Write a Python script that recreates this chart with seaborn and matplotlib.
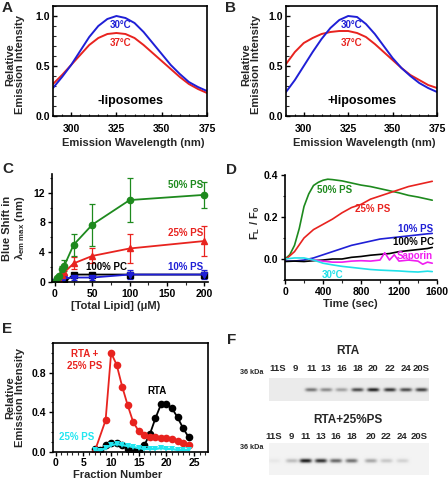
import numpy as np
import pandas as pd
import matplotlib
matplotlib.use('Agg')
import matplotlib.pyplot as plt
import seaborn as sns
from matplotlib.ticker import MultipleLocator

# ---------------- data ----------------
# Panels A / B : emission spectra
wavelength = [290, 295, 300, 305, 310, 315, 320, 325, 330, 335, 340, 345, 350, 355, 360, 365, 370, 375]
a_30C = [0.28, 0.39, 0.51, 0.65, 0.79, 0.90, 0.97, 1.00, 0.98, 0.93, 0.84, 0.73, 0.62, 0.51, 0.42, 0.34, 0.29, 0.25]
a_37C = [0.32, 0.41, 0.51, 0.61, 0.71, 0.78, 0.82, 0.83, 0.82, 0.78, 0.71, 0.63, 0.55, 0.47, 0.39, 0.32, 0.27, 0.23]
b_30C = [0.24, 0.36, 0.50, 0.64, 0.77, 0.88, 0.96, 1.00, 0.99, 0.92, 0.82, 0.70, 0.58, 0.48, 0.40, 0.33, 0.28, 0.24]
b_37C = [0.52, 0.64, 0.73, 0.78, 0.82, 0.84, 0.85, 0.85, 0.83, 0.79, 0.72, 0.64, 0.56, 0.48, 0.41, 0.36, 0.31, 0.28]

# Panel C : blue shift vs lipid
c_lipid50 = [0, 2.5, 5, 10, 12.5, 25, 50, 100, 200]
c_ps50 = [0, 0.5, 0.8, 1.7, 2.2, 5.0, 7.7, 11.0, 11.7]
c_ps50_err = [0, 0.1, 0.2, 0.5, 0.7, 1.5, 2.8, 2.9, 1.7]
c_lipid = [0, 5, 10, 12.5, 25, 50, 100, 200]
c_ps25 = [0, 0.3, 1.0, 1.3, 2.5, 3.5, 4.5, 5.5]
c_ps25_err = [0, 0.1, 0.3, 0.4, 0.8, 1.0, 2.0, 2.0]
c_pc100 = [0, 0, 0, 0, 1.0, 1.0, 1.0, 1.0]
c_ps10 = [0, 0.2, 0.4, 0.5, 0.6, 0.6, 1.0, 1.0]
c_ps10_err = [0, 0.1, 0.1, 0.2, 0.3, 0.3, 0.6, 0.6]

# Panel D : kinetics
d_t_ps50 = [0, 50, 100, 150, 200, 250, 300, 350, 400, 450, 500, 600, 700, 800, 900, 1000, 1100, 1200, 1300, 1400, 1500, 1550]
d_ps50 = [0.0, 0.02, 0.065, 0.145, 0.25, 0.31, 0.35, 0.365, 0.375, 0.38, 0.378, 0.372, 0.362, 0.352, 0.345, 0.335, 0.325, 0.315, 0.303, 0.295, 0.285, 0.28]
d_t = [0, 100, 200, 300, 400, 500, 600, 700, 800, 900, 1000, 1100, 1200, 1300, 1400, 1500, 1550]
d_ps25 = [-0.005, 0.035, 0.10, 0.14, 0.165, 0.19, 0.22, 0.245, 0.26, 0.285, 0.30, 0.315, 0.33, 0.345, 0.355, 0.365, 0.37]
d_ps10 = [-0.01, -0.01, -0.005, 0.005, 0.02, 0.035, 0.05, 0.065, 0.075, 0.085, 0.095, 0.10, 0.105, 0.11, 0.115, 0.12, 0.122]
d_pc100 = [-0.012, -0.01, -0.012, -0.008, -0.005, 0.0, 0.0, 0.008, 0.012, 0.018, 0.022, 0.026, 0.035, 0.04, 0.045, 0.05, 0.055]
d_30C = [0.0, 0.005, 0.005, -0.005, -0.02, -0.028, -0.035, -0.04, -0.045, -0.05, -0.053, -0.055, -0.057, -0.06, -0.062, -0.058, -0.06]
d_t_sap = [250, 300, 400, 500, 600, 700, 800, 900, 1000, 1050, 1100, 1150, 1200, 1300, 1400, 1450, 1500, 1550]
d_saporin = [0.0, -0.005, -0.01, -0.015, -0.015, -0.01, -0.008, -0.01, -0.005, 0.03, -0.005, 0.02, -0.01, -0.005, -0.01, -0.025, -0.015, -0.02]

# Panel E : gradient fractions
e_frac_red = [7, 9, 10, 11, 12, 13, 14, 15, 16, 17, 18, 19, 20, 21, 22, 23, 24]
e_rta_ps = [0.0, 0.32, 1.0, 0.88, 0.66, 0.47, 0.30, 0.21, 0.17, 0.15, 0.15, 0.14, 0.14, 0.13, 0.11, 0.09, 0.07]
e_frac = [7, 8, 9, 10, 11, 12, 13, 14, 15, 16, 17, 18, 19, 20, 21, 22, 23, 24]
e_rta = [0.03, 0.02, 0.07, 0.09, 0.09, 0.07, 0.03, 0.02, 0.01, 0.07, 0.18, 0.34, 0.48, 0.48, 0.44, 0.35, 0.24, 0.15]
e_ps = [0.02, 0.01, 0.04, 0.07, 0.08, 0.07, 0.06, 0.05, 0.04, 0.03, 0.03, 0.03, 0.04, 0.03, 0.03, 0.02, 0.02, 0.02]

# Panel F : blot lanes and band intensities
f_lanes = ['11S', '9', '11', '13', '16', '18', '20', '22', '24', '20S']
f_rta_band = [0.0, 0.0, 0.55, 0.45, 0.35, 0.75, 0.95, 0.85, 0.75, 0.8]
f_rta_ps_band = [0.05, 0.25, 1.0, 0.9, 0.65, 0.6, 0.35, 0.2, 0.15, 0.0]

# ---------------- style ----------------
sns.set_theme(style='ticks')
plt.rcParams['font.family'] = ['Liberation Sans', 'DejaVu Sans']
plt.rcParams['font.weight'] = 'bold'
plt.rcParams['axes.labelweight'] = 'bold'
plt.rcParams['mathtext.fontset'] = 'custom'
plt.rcParams['mathtext.rm'] = 'Liberation Sans:bold'
plt.rcParams['mathtext.bf'] = 'Liberation Sans:bold'
plt.rcParams['mathtext.it'] = 'Liberation Sans:bold'
plt.rcParams['axes.linewidth'] = 1.2
plt.rcParams['axes.edgecolor'] = 'black'

W, H = 448, 483
fig = plt.figure(figsize=(W / 100, H / 100), dpi=100)
fig.patch.set_facecolor('white')


def px_axes(x0, y0, x1, y1):
    return fig.add_axes([x0 / W, 1 - y1 / H, (x1 - x0) / W, (y1 - y0) / H])


TICK = 7.5
LAB = 8

def style(ax, box=True, direction='out'):
    for s in ['top', 'right']:
        ax.spines[s].set_visible(box)
    ax.tick_params(axis='both', which='major', labelsize=TICK, length=3, width=1, direction=direction,
                   pad=2, colors='black')
    ax.tick_params(axis='both', which='minor', length=1.8, width=0.8, direction=direction)
    for lab in ax.get_xticklabels() + ax.get_yticklabels():
        lab.set_fontweight('bold')
    ax.set_facecolor('white')


blue = '#1f1fd6'
red = '#e8231f'
green = '#1e8a1e'

# ---- Panel A & B ----
for (x0, x1, d30, d37, txt, letter, lx) in [
        (53, 207, a_30C, a_37C, '-liposomes', 'A', 2),
        (286, 437, b_30C, b_37C, '+liposomes', 'B', 225)]:
    ax = px_axes(x0, 6, x1, 116)
    sns.lineplot(x=wavelength, y=d37, ax=ax, color=red, lw=1.4)
    sns.lineplot(x=wavelength, y=d30, ax=ax, color=blue, lw=1.4)
    ax.set_xlim(290, 375)
    ax.set_ylim(0, 1.1)
    ax.xaxis.set_major_locator(MultipleLocator(25))
    ax.xaxis.set_minor_locator(MultipleLocator(5))
    ax.yaxis.set_major_locator(MultipleLocator(0.5))
    ax.yaxis.set_minor_locator(MultipleLocator(0.1))
    ax.yaxis.set_major_formatter(matplotlib.ticker.FormatStrFormatter('%.1f'))
    style(ax, box=True, direction='in')
    ax.tick_params(axis='x', pad=6)
    ax.text(327, 0.91, '30°C', color=blue, fontsize=7, ha='center', va='center', fontweight='bold')
    ax.text(327, 0.73, '37°C', color=red, fontsize=7, ha='center', va='center', fontweight='bold')
    ax.text(333, 0.15, txt, color='black', fontsize=9, ha='center', va='center', fontweight='bold')
    ax.set_xlabel('Emission Wavelength (nm)', fontsize=LAB, fontweight='bold')
    ax.set_ylabel('Relative\nEmission Intensity', fontsize=LAB, fontweight='bold', linespacing=1.0)
    ax.xaxis.set_label_coords(0.52, -0.2)
    ax.yaxis.set_label_coords(-0.18 if letter == 'A' else -0.165, 0.47)
    fig.text(lx / W, 1 - 1 / H, letter, fontsize=11, fontweight='bold', va='top', ha='left')

# ---- Panel C ----
ax = px_axes(52, 174, 208, 282)
ekw = dict(capsize=2, elinewidth=0.9, capthick=0.9, lw=1.3, ms=4.5)
ax.errorbar(c_lipid, c_pc100, color='black', marker='s', **ekw)
ax.errorbar(c_lipid, c_ps10, yerr=c_ps10_err, color=blue, marker='v', **ekw)
ax.errorbar(c_lipid, c_ps25, yerr=c_ps25_err, color=red, marker='^', **ekw)
ax.errorbar(c_lipid50, c_ps50, yerr=c_ps50_err, color=green, marker='o', **ekw)
ax.set_xlim(-4, 205)
ax.set_ylim(0, 14.5)
ax.xaxis.set_major_locator(MultipleLocator(50))
ax.xaxis.set_minor_locator(MultipleLocator(25))
ax.yaxis.set_major_locator(MultipleLocator(4))
ax.yaxis.set_minor_locator(MultipleLocator(2))
style(ax, box=False)
ax.text(198, 12.3, '50% PS', color=green, fontsize=7, ha='right', va='bottom', fontweight='bold')
ax.text(198, 5.9, '25% PS', color=red, fontsize=7, ha='right', va='bottom', fontweight='bold')
ax.text(198, 1.3, '10% PS', color=blue, fontsize=7, ha='right', va='bottom', fontweight='bold')
ax.text(97, 1.3, '100% PC', color='black', fontsize=7, ha='right', va='bottom', fontweight='bold')
ax.set_xlabel('[Total Lipid] (μM)', fontsize=LAB, fontweight='bold')
ax.set_ylabel('Blue Shift in\n$\\lambda_{\\mathbf{em\\ max}}$ (nm)', fontsize=LAB, fontweight='bold', linespacing=1.1)
ax.xaxis.set_label_coords(0.41, -0.18)
ax.yaxis.set_label_coords(-0.16, 0.5)
fig.text(2 / W, 1 - 162 / H, 'C', fontsize=11, fontweight='bold', va='top', ha='left')

# ---- Panel D ----
ax = px_axes(285, 175, 437, 280)
magenta = '#f01ef0'
cyan = '#20e0e8'
sns.lineplot(x=d_t_ps50, y=d_ps50, ax=ax, color=green, lw=1.2)
sns.lineplot(x=d_t, y=d_ps25, ax=ax, color=red, lw=1.2)
sns.lineplot(x=d_t, y=d_ps10, ax=ax, color=blue, lw=1.2)
sns.lineplot(x=d_t, y=d_pc100, ax=ax, color='black', lw=1.2)
sns.lineplot(x=d_t_sap, y=d_saporin, ax=ax, color=magenta, lw=1.2)
sns.lineplot(x=d_t, y=d_30C, ax=ax, color=cyan, lw=1.2)
ax.set_xlim(0, 1600)
ax.set_ylim(-0.1, 0.4)
ax.xaxis.set_major_locator(MultipleLocator(400))
ax.xaxis.set_minor_locator(MultipleLocator(200))
ax.yaxis.set_major_locator(MultipleLocator(0.2))
ax.yaxis.set_minor_locator(MultipleLocator(0.1))
ax.yaxis.set_major_formatter(matplotlib.ticker.FormatStrFormatter('%.1f'))
style(ax, box=False)
ax.text(340, 0.33, '50% PS', color=green, fontsize=7, ha='left', va='center', fontweight='bold')
ax.text(740, 0.237, '25% PS', color=red, fontsize=7, ha='left', va='center', fontweight='bold')
ax.text(1190, 0.144, '10% PS', color=blue, fontsize=7, ha='left', va='center', fontweight='bold')
ax.text(1140, 0.08, '100% PC', color='black', fontsize=7, ha='left', va='center', fontweight='bold')
ax.text(1175, 0.013, 'Saporin', color=magenta, fontsize=7, ha='left', va='center', fontweight='bold')
ax.text(390, -0.074, '30°C', color=cyan, fontsize=7, ha='left', va='center', fontweight='bold')
ax.set_xlabel('Time (sec)', fontsize=LAB, fontweight='bold')
ax.set_ylabel('$\\mathbf{F_L\\ /\\ F_0}$', fontsize=LAB)
ax.xaxis.set_label_coords(0.43, -0.18)
ax.yaxis.set_label_coords(-0.15, 0.55)
fig.text(226 / W, 1 - 163 / H, 'D', fontsize=11, fontweight='bold', va='top', ha='left')

# ---- Panel E ----
ax = px_axes(53, 343, 208, 452)
cyan2 = '#22e6f0'
sns.lineplot(x=e_frac, y=e_rta, ax=ax, color='black', lw=1.3, marker='o', markersize=5.5, markeredgewidth=0)
sns.lineplot(x=e_frac_red, y=e_rta_ps, ax=ax, color=red, lw=1.3, marker='o', markersize=5.5, markeredgewidth=0)
sns.lineplot(x=e_frac, y=e_ps, ax=ax, color=cyan2, lw=1.6, marker='v', markersize=5, markeredgewidth=0)
ax.set_xlim(-0.5, 27.5)
ax.set_ylim(0, 1.1)
ax.xaxis.set_major_locator(MultipleLocator(5))
ax.xaxis.set_minor_locator(MultipleLocator(1))
ax.yaxis.set_major_locator(MultipleLocator(0.4))
ax.yaxis.set_minor_locator(MultipleLocator(0.1))
ax.yaxis.set_major_formatter(matplotlib.ticker.FormatStrFormatter('%.1f'))
style(ax, box=True)
ax.tick_params(axis='x', pad=1)
ax.text(5.3, 0.93, 'RTA +\n25% PS', color=red, fontsize=7, ha='center', va='center', fontweight='bold', linespacing=1.2)
ax.text(18.2, 0.62, 'RTA', color='black', fontsize=7, ha='center', va='center', fontweight='bold')
ax.text(3.7, 0.15, '25% PS', color=cyan2, fontsize=7, ha='center', va='center', fontweight='bold')
ax.set_xlabel('Fraction Number', fontsize=LAB, fontweight='bold')
ax.set_ylabel('Relative\nEmission Intensity', fontsize=LAB, fontweight='bold', linespacing=1.0)
ax.xaxis.set_label_coords(0.42, -0.165)
ax.yaxis.set_label_coords(-0.18, 0.5)
fig.text(2 / W, 1 - 322 / H, 'E', fontsize=11, fontweight='bold', va='top', ha='left')

# ---- Panel F : blots ----
axf = fig.add_axes([224 / W, 0, 224 / W, 163 / H])
axf.set_xlim(224, 448)
axf.set_ylim(483, 320)
axf.axis('off')
lane_x_top = [278, 295.7, 311, 326, 341.3, 357.3, 373, 389.7, 405.7, 421.3]
lane_x_bot = [274, 291.7, 305.5, 320.7, 335.7, 351.3, 370.7, 386.3, 402.3, 419]


def blot(y0, y1, band_y, band_h, lanes_x, bands, bg):
    xs = np.arange(269, 429, 0.5)
    ys = np.arange(y0, y1, 0.5)
    X, Y = np.meshgrid(xs, ys)
    img = np.full(X.shape, bg)
    for cx, a in zip(lanes_x, bands):
        prof = np.exp(-((np.abs(X - cx) / 6.0) ** 4)) * np.exp(-((Y - band_y) / band_h) ** 2)
        img -= a * 0.85 * prof
    img = np.clip(img, 0, 1)
    axf.imshow(img, cmap='gray', vmin=0, vmax=1, extent=[269, 429, y1, y0], aspect='auto',
               interpolation='bilinear', zorder=1)


blot(378, 401, 389.5, 1.8, lane_x_top, f_rta_band, 0.92)
blot(443, 475, 460.5, 2.0, lane_x_bot, f_rta_ps_band, 0.95)

axf.text(227, 333, 'F', fontsize=11, fontweight='bold', ha='left', va='top')
axf.text(348, 351, 'RTA', fontsize=8.5, fontweight='bold', ha='center', va='center')
axf.text(348, 420, 'RTA+25%PS', fontsize=8.5, fontweight='bold', ha='center', va='center')
for xx, lab in zip(lane_x_top, f_lanes):
    axf.text(xx, 368.5, lab, fontsize=6.8, fontweight='bold', ha='center', va='center')
for xx, lab in zip(lane_x_bot, f_lanes):
    axf.text(xx, 437, lab, fontsize=6.8, fontweight='bold', ha='center', va='center')
axf.text(252, 373, '36 kDa', fontsize=5.2, fontweight='bold', ha='center', va='center')
axf.text(252, 448, '36 kDa', fontsize=5.2, fontweight='bold', ha='center', va='center')

fig.savefig('out.png', dpi=100, facecolor='white')
